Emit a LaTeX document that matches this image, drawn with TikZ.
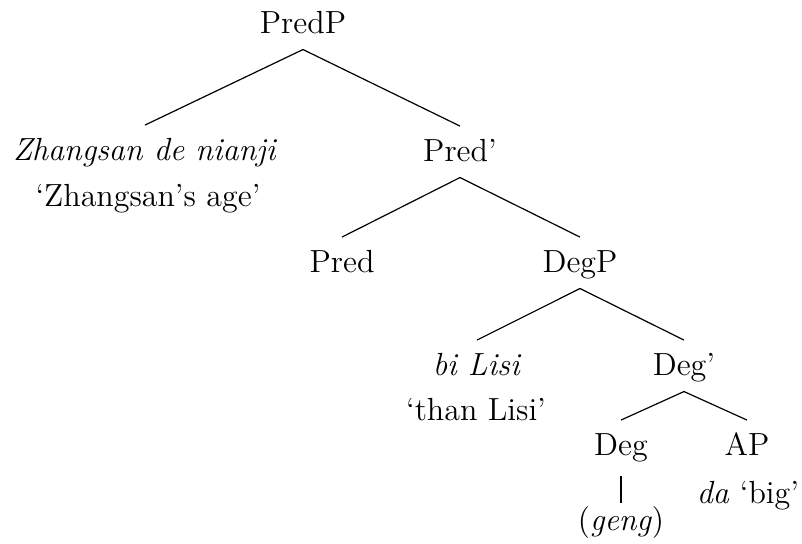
\documentclass[tikz,border=0pt]{standalone}
\tikzset{
  cat/.style={inner sep=0pt, anchor=base, text height=12.9pt, text depth=6pt,
              font=\fontsize{12}{14.5}\selectfont},
  gloss/.style={cat},
  br/.style={draw=black, line width=0.45pt}
}

\begin{document}
\begin{tikzpicture}[x=0.375pt, y=-0.375pt]
\useasboundingbox (0,0) rectangle (802,544);

% categories
\node[cat] (predp)   at (303,33)  {PredP};
\node[cat] (zs)      at (145,160) {\textit{Zhangsan de nianji}};
\node[cat] (predbar) at (460,161) {Pred'};
\node[cat] (pred)    at (342,272) {Pred};
\node[cat] (degp)    at (580,272) {DegP};
\node[cat] (bilisi)  at (477,375) {\textit{bi Lisi}};
\node[cat] (degbar)  at (684,375) {Deg'};
\node[cat, text depth=7.5pt] (deg) at (621,455) {Deg};
\node[cat] (ap)      at (747,455) {AP};
\node[cat, text height=10.1pt] (geng) at (621,530) {(\textit{geng})};

% glosses
\node[gloss] (zsgl)  at (148,206) {`Zhangsan's age'};
\node[gloss] (thanl) at (476,420) {`than Lisi'};
\node[gloss] (dabig) at (748,503) {\textit{da} `big'};

% branches
\draw[br] (predp.south) -- (zs.north);
\draw[br] (predp.south) -- (predbar.north);
\draw[br] (predbar.south) -- (pred.north);
\draw[br] (predbar.south) -- (degp.north);
\draw[br] (degp.south) -- (bilisi.north);
\draw[br] (degp.south) -- (degbar.north);
\draw[br] (degbar.south) -- (deg.north);
\draw[br] (degbar.south) -- (ap.north);
\draw[br] (deg.south) -- (deg.south |- geng.north);

\end{tikzpicture}
\end{document}
